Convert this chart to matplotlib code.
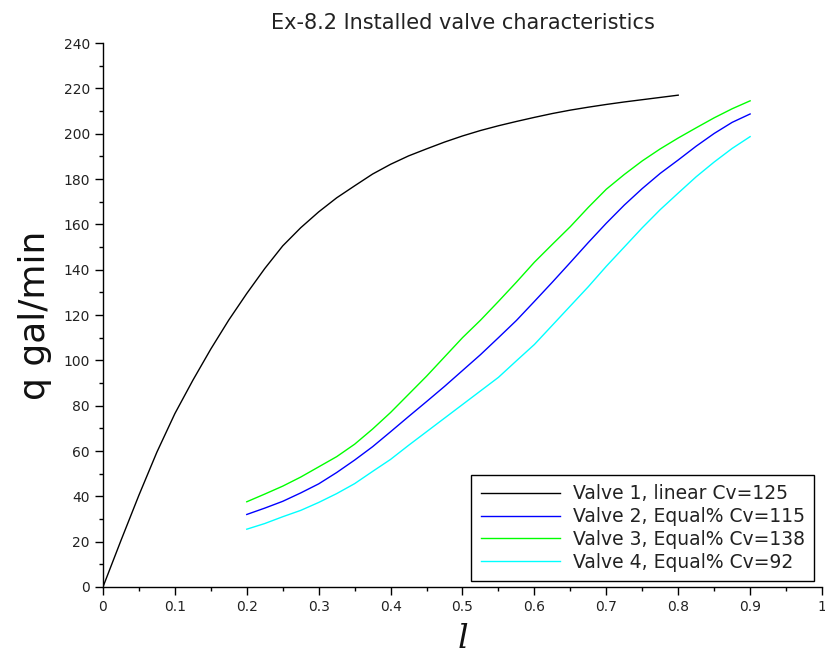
import matplotlib
matplotlib.use('Agg')
import matplotlib.pyplot as plt
from matplotlib.ticker import MultipleLocator, FuncFormatter

# Valve 1 (linear trim), flow vs lift
lift_linear = [0.0, 0.025, 0.05, 0.075, 0.1, 0.125, 0.15, 0.175, 0.2, 0.225,
               0.25, 0.275, 0.3, 0.325, 0.35, 0.375, 0.4, 0.425, 0.45, 0.475,
               0.5, 0.525, 0.55, 0.575, 0.6, 0.625, 0.65, 0.675, 0.7, 0.725,
               0.75, 0.775, 0.8]
q_valve1 = [0, 20.5, 40.5, 59.5, 76.5, 91.2, 105, 117.8, 129.5, 140.5,
            150.5, 158.5, 165.5, 171.7, 177, 182.2, 186.5, 190.2, 193.3, 196.3,
            199, 201.4, 203.5, 205.4, 207.2, 208.9, 210.4, 211.7, 212.9, 214,
            215, 216, 217]

# Equal-percentage valves, lift 0.2 .. 0.9
lift_eq = [0.2, 0.225, 0.25, 0.275, 0.3, 0.325, 0.35, 0.375, 0.4, 0.425,
           0.45, 0.475, 0.5, 0.525, 0.55, 0.575, 0.6, 0.625, 0.65, 0.675,
           0.7, 0.725, 0.75, 0.775, 0.8, 0.825, 0.85, 0.875, 0.9]
q_valve2 = [32, 34.8, 37.8, 41.5, 45.5, 50.5, 56, 61.9, 68.5, 75.2,
            81.8, 88.5, 95.5, 102.5, 110, 117.6, 126, 134.5, 143.2, 152,
            160.5, 168.5, 175.8, 182.5, 188.4, 194.5, 200.1, 205, 208.7]
q_valve3 = [37.6, 41, 44.5, 48.5, 53, 57.5, 63, 69.7, 77, 85,
            93, 101.5, 110, 117.7, 126, 134.5, 143.3, 151.2, 159, 167.5,
            175.5, 182, 188, 193.3, 198.1, 202.6, 207, 211, 214.5]
q_valve4 = [25.5, 28, 31, 33.8, 37.3, 41.2, 45.6, 51, 56.3, 62.5,
            68.5, 74.5, 80.5, 86.5, 92.5, 99.8, 107, 115.5, 124, 132.5,
            141.5, 150, 158.5, 166.5, 173.8, 181, 187.5, 193.5, 198.7]

labels = ['Valve 1, linear Cv=125', 'Valve 2, Equal% Cv=115',
          'Valve 3, Equal% Cv=138', 'Valve 4, Equal% Cv=92']
colors = ['#000000', '#0000ff', '#00ff00', '#00ffff']

fig = plt.figure(figsize=(8.25, 6.62), dpi=100)
ax = fig.add_axes([0.1248, 0.1133, 0.8716, 0.8217])

series = [(lift_linear, q_valve1), (lift_eq, q_valve2),
          (lift_eq, q_valve3), (lift_eq, q_valve4)]
for (x, y), lab, c in zip(series, labels, colors):
    ax.plot(x, y, color=c, lw=1.0, label=lab)

ax.set_xlim(0, 1)
ax.set_ylim(0, 240)
ax.xaxis.set_major_locator(MultipleLocator(0.1))
ax.xaxis.set_minor_locator(MultipleLocator(0.05))
ax.yaxis.set_major_locator(MultipleLocator(20))
ax.yaxis.set_minor_locator(MultipleLocator(10))
ax.xaxis.set_major_formatter(FuncFormatter(lambda v, p: '%g' % round(v, 2)))

for side in ('top', 'right'):
    ax.spines[side].set_visible(False)
for side in ('left', 'bottom'):
    ax.spines[side].set_linewidth(1.0)
ax.tick_params(which='major', direction='out', length=6, width=1,
               labelsize=10, labelcolor='#222222')
ax.tick_params(which='minor', direction='out', length=3, width=1)

ax.set_title('Ex-8.2 Installed valve characteristics', fontsize=15,
             color='#222222', pad=10)
ax.set_ylabel('q gal/min', fontsize=26, color='#111111', labelpad=8)
ax.set_xlabel('l', fontsize=24, family='DejaVu Serif', style='italic',
              color='#111111', labelpad=6)

leg = ax.legend(loc='lower right', bbox_to_anchor=(0.989, 0.011),
                fontsize=13.5, fancybox=False, framealpha=1,
                edgecolor='black', handlelength=4.2, borderpad=0.5,
                labelspacing=0.2, handletextpad=0.7, borderaxespad=0)
leg.get_frame().set_linewidth(1.0)
for t in leg.get_texts():
    t.set_color('#222222')

fig.savefig('out.png', dpi=100)
